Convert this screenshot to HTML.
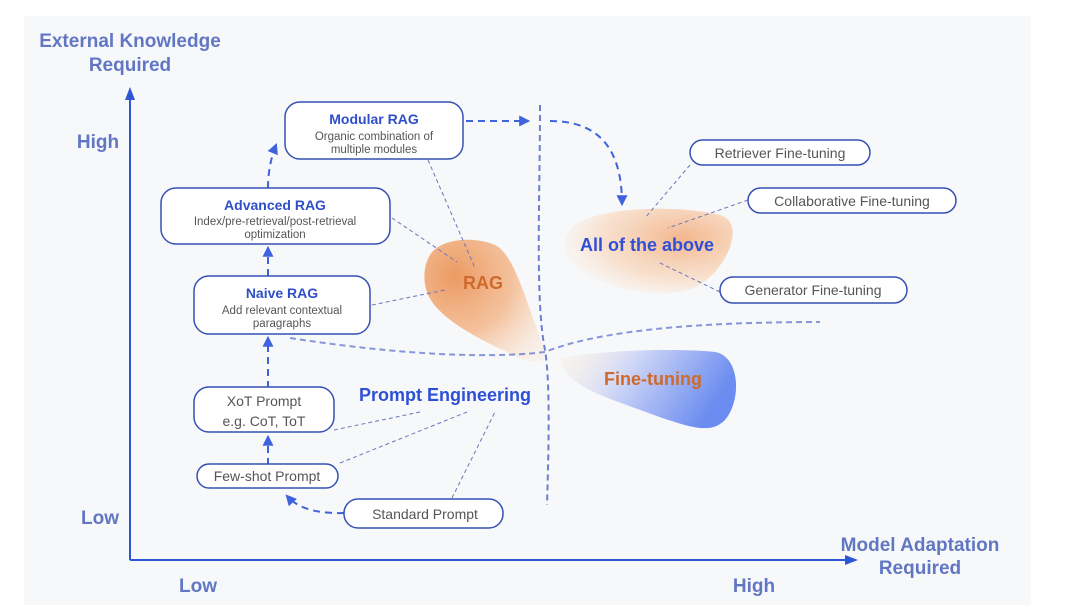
<!DOCTYPE html>
<html><head><meta charset="utf-8"><style>
html,body{margin:0;padding:0;background:#fff;width:1080px;height:614px;overflow:hidden}
svg{display:block;font-family:"Liberation Sans",sans-serif}
</style></head><body>
<svg width="1080" height="614" viewBox="0 0 1080 614" xmlns="http://www.w3.org/2000/svg">
<defs>
<radialGradient id="gr" cx="0.25" cy="0.3" r="0.95">
<stop offset="0" stop-color="#ec9a62"/><stop offset="0.5" stop-color="#f3bb92" stop-opacity="0.9"/><stop offset="1" stop-color="#fbe6d4" stop-opacity="0.3"/></radialGradient>
<radialGradient id="ga" cx="0.7" cy="0.35" r="0.8">
<stop offset="0" stop-color="#f3b68c"/><stop offset="0.6" stop-color="#f8d9c0" stop-opacity="0.75"/><stop offset="1" stop-color="#fdf1e7" stop-opacity="0.15"/></radialGradient>
<linearGradient id="gf" x1="0" y1="0" x2="1" y2="0.3">
<stop offset="0" stop-color="#fdeedd" stop-opacity="0.3"/><stop offset="0.4" stop-color="#d3daf7"/><stop offset="1" stop-color="#6b8cf0"/></linearGradient>
<marker id="ah" viewBox="0 0 10 10" refX="8" refY="5" markerWidth="11" markerHeight="11" markerUnits="userSpaceOnUse" orient="auto"><path d="M0,0 L10,5 L0,10 z" fill="#3f63dc"/></marker>
</defs>
<rect x="24" y="16" width="1007" height="589" fill="#f7f8fa"/>

<!-- blobs -->
<path d="M430,255 C440,238 475,236 495,245 C515,255 525,300 545,350 C550,362 535,365 520,358 C480,340 440,320 428,295 C422,280 424,265 430,255 Z" fill="url(#gr)"/>
<path d="M570,230 C590,205 680,205 720,215 C745,222 730,265 700,285 C660,305 600,285 580,270 C565,258 560,242 570,230 Z" fill="url(#ga)"/>
<path d="M560,358 C600,350 680,348 715,352 C740,356 742,400 725,420 C710,435 690,428 640,410 C600,395 565,385 560,358 Z" fill="url(#gf)"/>

<!-- dividing dashed curves -->
<path d="M540,105 C540,200 535,300 545,350 C550,380 549,440 547,505" fill="none" stroke="#3c55c8" stroke-width="2" stroke-dasharray="6,4" opacity="0.75"/>
<path d="M290,338 C380,352 480,360 545,352 C600,330 700,322 820,322" fill="none" stroke="#3c55c8" stroke-width="2" stroke-dasharray="6,4" opacity="0.6"/>

<!-- axes -->
<line x1="130" y1="560" x2="130" y2="96" stroke="#2f56d6" stroke-width="2"/>
<path d="M125,100 L130,87 L135,100 Z" fill="#2f56d6"/>
<line x1="130" y1="560" x2="848" y2="560" stroke="#2f56d6" stroke-width="2"/>
<path d="M845,555 L858,560 L845,565 Z" fill="#2f56d6"/>

<g fill="#6277c4" font-weight="bold" font-size="19" text-anchor="middle">
<text x="130" y="47">External Knowledge</text>
<text x="130" y="71">Required</text>
<text x="98" y="148">High</text>
<text x="100" y="524">Low</text>
<text x="198" y="592">Low</text>
<text x="754" y="592">High</text>
<text x="920" y="551">Model Adaptation</text>
<text x="920" y="574">Required</text>
</g>

<!-- leader lines -->
<g stroke="#6a78b8" stroke-width="1" stroke-dasharray="4,3" fill="none">
<line x1="428" y1="160" x2="475" y2="268"/>
<line x1="392" y1="218" x2="457" y2="262"/>
<line x1="372" y1="305" x2="445" y2="290"/>
<line x1="334" y1="430" x2="420" y2="412"/>
<line x1="340" y1="463" x2="467" y2="412"/>
<line x1="452" y1="498" x2="495" y2="412"/>
<line x1="690" y1="165" x2="645" y2="218"/>
<line x1="748" y1="200" x2="668" y2="228"/>
<line x1="720" y1="292" x2="660" y2="263"/>
</g>

<!-- flow arrows -->
<g stroke="#3f63dc" stroke-width="2" stroke-dasharray="7,5" fill="none">
<line x1="268" y1="388" x2="268" y2="338" marker-end="url(#ah)"/>
<line x1="268" y1="276" x2="268" y2="248" marker-end="url(#ah)"/>
<path d="M268,188 C268,175 270,160 276,145" marker-end="url(#ah)"/>
<line x1="268" y1="465" x2="268" y2="437" marker-end="url(#ah)"/>
<path d="M344,513 C310,514 295,505 287,496" marker-end="url(#ah)"/>
<line x1="466" y1="121" x2="528" y2="121" marker-end="url(#ah)"/>
<path d="M550,121 C600,121 622,150 622,204" marker-end="url(#ah)"/>
</g>

<!-- boxes -->
<g fill="#fff" stroke="#3550b5" stroke-width="1.5">
<rect x="285" y="102" width="178" height="57" rx="15"/>
<rect x="161" y="188" width="229" height="56" rx="15"/>
<rect x="194" y="276" width="176" height="58" rx="15"/>
<rect x="194" y="387" width="140" height="45" rx="15"/>
<rect x="197" y="464" width="141" height="24" rx="12"/>
<rect x="344" y="499" width="159" height="29" rx="14"/>
<rect x="690" y="140" width="180" height="25" rx="12.5"/>
<rect x="748" y="188" width="208" height="25" rx="12.5"/>
<rect x="720" y="277" width="187" height="26" rx="13"/>
</g>

<g text-anchor="middle">
<g fill="#2e4fc8" font-weight="bold" font-size="14">
<text x="374" y="124">Modular RAG</text>
<text x="275" y="210">Advanced RAG</text>
<text x="282" y="298">Naive RAG</text>
</g>
<g fill="#555" font-size="11.5">
<text x="374" y="140">Organic combination of</text>
<text x="374" y="153">multiple modules</text>
<text x="275" y="225">Index/pre-retrieval/post-retrieval</text>
<text x="275" y="238">optimization</text>
<text x="282" y="314">Add relevant contextual</text>
<text x="282" y="327">paragraphs</text>
</g>
<g fill="#555" font-size="14">
<text x="264" y="406">XoT Prompt</text>
<text x="264" y="426">e.g. CoT, ToT</text>
<text x="267" y="481">Few-shot Prompt</text>
<text x="425" y="519">Standard Prompt</text>
<text x="780" y="158">Retriever Fine-tuning</text>
<text x="852" y="206">Collaborative Fine-tuning</text>
<text x="813" y="295">Generator Fine-tuning</text>
</g>
<g font-weight="bold" font-size="18">
<text x="483" y="289" fill="#cf6a2c">RAG</text>
<text x="647" y="251" fill="#2e4fd6">All of the above</text>
<text x="653" y="385" fill="#cf6a2c">Fine-tuning</text>
<text x="445" y="401" fill="#2e4fd6">Prompt Engineering</text>
</g>
</g>
</svg>
</body></html>
